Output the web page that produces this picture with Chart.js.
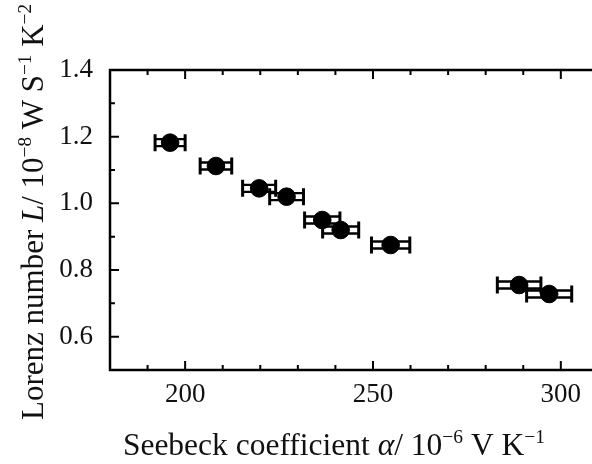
<!DOCTYPE html>
<html lang="en">
<head>
  <meta charset="UTF-8">
  <title>Lorenz number vs Seebeck coefficient</title>
  <script src="https://cdn.jsdelivr.net/npm/chart.js"></script>
  <style>
    html, body { margin: 0; padding: 0; background: #fff; }
    #wrap { width: 592px; height: 464px; }
  </style>
</head>
<body>
  <div id="wrap">
    <canvas id="lorenzChart" width="592" height="464"></canvas>
  </div>

  <script>
    // values
    const seebeck = [196.0, 208.2, 219.7, 227.0, 236.5, 241.4, 254.7, 288.9, 296.9];
    const lorenz = [1.182, 1.112, 1.045, 1.020, 0.950, 0.920, 0.875, 0.755, 0.728];
    const seebeckErr = [4.0, 4.2, 4.4, 4.5, 4.7, 4.8, 5.1, 5.8, 6.0];

    const xTicks = [200, 250, 300];
    const xMinor = [190, 210, 220, 230, 240, 260, 270, 280, 290];
    const yTicks = [0.6, 0.8, 1.0, 1.2, 1.4];
    const yMinor = [0.7, 0.9, 1.1, 1.3];

    const serif = "'Liberation Serif', 'DejaVu Serif', serif";

    // horizontal error bars with caps
    const errorBars = {
      id: 'errorBars',
      beforeDatasetsDraw(chart) {
        const c = chart.ctx;
        const xs = chart.scales.x, ys = chart.scales.y;
        c.save();
        c.strokeStyle = '#000';
        seebeck.forEach((v, i) => {
          const y = ys.getPixelForValue(lorenz[i]);
          const x0 = xs.getPixelForValue(v - seebeckErr[i]);
          const x1 = xs.getPixelForValue(v + seebeckErr[i]);
          c.lineWidth = 2.4;
          c.beginPath();
          c.moveTo(x0, y - 3.5); c.lineTo(x1, y - 3.5);
          c.moveTo(x0, y + 3.5); c.lineTo(x1, y + 3.5);
          c.stroke();
          c.lineWidth = 3;
          c.beginPath();
          c.moveTo(x0, y - 8.5); c.lineTo(x0, y + 8.5);
          c.moveTo(x1, y - 8.5); c.lineTo(x1, y + 8.5);
          c.stroke();
        });
        c.restore();
      }
    };

    // frame with inward ticks
    const frame = {
      id: 'frame',
      afterDraw(chart) {
        const c = chart.ctx;
        const a = chart.chartArea;
        const xs = chart.scales.x, ys = chart.scales.y;
        c.save();
        c.strokeStyle = '#000';
        c.lineWidth = 2.5;
        c.beginPath();
        c.moveTo(a.right, a.top); c.lineTo(a.left, a.top);
        c.lineTo(a.left, a.bottom); c.lineTo(a.right, a.bottom);
        c.stroke();
        c.lineWidth = 2;
        c.beginPath();
        xTicks.concat(xMinor).forEach(v => {
          const len = xTicks.includes(v) ? 9 : 5;
          const px = xs.getPixelForValue(v);
          c.moveTo(px, a.bottom); c.lineTo(px, a.bottom - len);
          c.moveTo(px, a.top); c.lineTo(px, a.top + len);
        });
        yTicks.concat(yMinor).forEach(v => {
          const len = yTicks.includes(v) ? 9 : 5;
          const py = ys.getPixelForValue(v);
          c.moveTo(a.left, py); c.lineTo(a.left + len, py);
        });
        c.stroke();
        c.restore();
      }
    };

    // axis titles with italic symbols and superscripts
    function drawRich(c, parts, size) {
      let total = 0;
      const widths = parts.map(p => {
        const fs = p.sup ? size * 0.62 : size;
        c.font = (p.it ? 'italic ' : '') + fs + 'px ' + serif;
        const w = c.measureText(p.t).width;
        total += w;
        return w;
      });
      let x = -total / 2;
      parts.forEach((p, i) => {
        const fs = p.sup ? size * 0.62 : size;
        c.font = (p.it ? 'italic ' : '') + fs + 'px ' + serif;
        c.fillText(p.t, x, p.sup ? -size * 0.38 : 0);
        x += widths[i];
      });
    }

    const xTitle = [
      { t: 'Seebeck coefficient ' }, { t: 'α', it: true }, { t: '/ 10' },
      { t: '−6', sup: true }, { t: ' V K' }, { t: '−1', sup: true }
    ];
    const yTitle = [
      { t: 'Lorenz number ' }, { t: 'L', it: true }, { t: '/ 10' },
      { t: '−8', sup: true }, { t: ' W S' }, { t: '−1', sup: true },
      { t: ' K' }, { t: '−2', sup: true }
    ];

    const titles = {
      id: 'titles',
      afterDraw(chart) {
        const c = chart.ctx;
        c.save();
        c.fillStyle = '#111';
        c.textBaseline = 'alphabetic';
        c.textAlign = 'left';
        c.translate(334, 455);
        drawRich(c, xTitle, 31.5);
        c.restore();
        c.save();
        c.fillStyle = '#111';
        c.textBaseline = 'alphabetic';
        c.textAlign = 'left';
        c.translate(43, 212);
        c.rotate(-Math.PI / 2);
        drawRich(c, yTitle, 31);
        c.restore();
      }
    };

    const ctx = document.getElementById('lorenzChart').getContext('2d');

    new Chart(ctx, {
      type: 'scatter',
      data: {
        datasets: [{
          data: seebeck.map((v, i) => ({ x: v, y: lorenz[i] })),
          backgroundColor: '#000',
          borderColor: '#000',
          pointRadius: 8.8,
          pointHoverRadius: 8.8
        }]
      },
      options: {
        responsive: false,
        animation: false,
        layout: { autoPadding: false, padding: { top: 70, right: 0, left: 0, bottom: 0 } },
        plugins: { legend: { display: false }, tooltip: { enabled: false } },
        scales: {
          x: {
            type: 'linear',
            min: 180,
            max: 308.3,
            afterBuildTicks: s => { s.ticks = xTicks.map(v => ({ value: v })); },
            afterFit: s => { s.height = 94; s.paddingLeft = 0; s.paddingRight = 0; },
            grid: { display: false, drawTicks: false },
            border: { display: false },
            ticks: { color: '#111', padding: 9, font: { family: serif, size: 27 } }
          },
          y: {
            min: 0.5,
            max: 1.4,
            afterBuildTicks: s => { s.ticks = yTicks.map(v => ({ value: v })); },
            afterFit: s => { s.width = 110; s.paddingTop = 0; s.paddingBottom = 0; },
            grid: { display: false, drawTicks: false },
            border: { display: false },
            ticks: {
              color: '#111', padding: 17, font: { family: serif, size: 27 },
              callback: v => v.toFixed(1)
            }
          }
        }
      },
      plugins: [errorBars, frame, titles]
    });
  </script>
</body>
</html>
